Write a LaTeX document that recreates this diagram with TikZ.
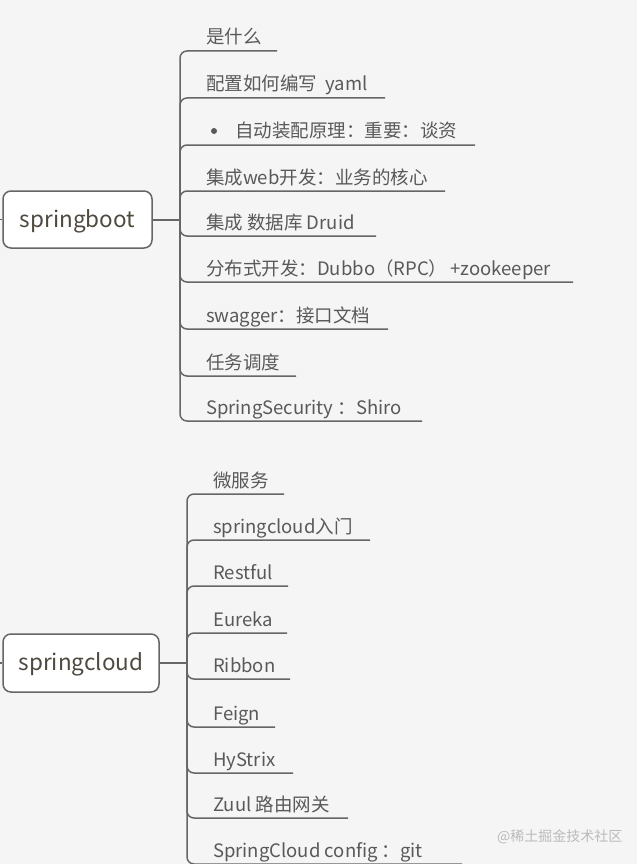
\documentclass[tikz,border=0pt]{standalone}
\usepackage{fontspec}
\setmainfont{Noto Sans CJK SC}
\usepackage{tikz}
\usetikzlibrary{positioning}
\usepackage{xcolor}
\definecolor{bggray}{HTML}{F5F5F5}
\definecolor{linegray}{HTML}{666666}
\definecolor{txtgray}{HTML}{595959}
\definecolor{roottxt}{HTML}{4F4A40}
\definecolor{markgray}{HTML}{BBBBBB}

\tikzset{
  rootbox/.style={draw=linegray,fill=white,line width=1.5pt,rounded corners=8pt,minimum width=149pt,minimum height=57pt,inner sep=0pt,text=roottxt,font=\fontsize{22.5}{24}\selectfont},
  item/.style={anchor=base west,inner sep=0pt,text=txtgray,font=\fontsize{18.5}{20}\selectfont},
  branch/.style={draw=linegray,line width=1.5pt,rounded corners=7pt},
  stem/.style={draw=linegray,line width=2.5pt}
}

\begin{document}
\begin{tikzpicture}[x=1pt,y=-1pt]
\fill [bggray] (0,0) rectangle (637,864);
\useasboundingbox (0,0) rectangle (637,864);

% springboot
\node[rootbox] (boot) at (77.5,219.5) {\raisebox{-7.5pt}[0pt][0pt]{springboot}};
\coordinate (bootin) at (0,219.5);
\coordinate (bootj) at (180,219.5);
\draw [stem,line width=1.5pt] (bootin)--(boot);
\draw [stem,line width=2pt] (boot)--(bootj);

\node[item] (b1) at (206,44) {是什么};
\node[item] (b2) at (206,91) {配置如何编写\ \ yaml};
\node[circle,fill=txtgray,inner sep=0pt,minimum size=6pt] (b3dot) at (214,131) {};
\node[item] (b3) at (235,138) {自动装配原理：重要：谈资};
\node[item] (b4) at (206,184) {集成web开发：业务的核心};
\node[item] (b5) at (206,229) {集成 数据库 Druid};
\node[item] (b6) at (206,275) {分布式开发：Dubbo（RPC）\,+zookeeper};
\node[item] (b7) at (206,322) {swagger：接口文档};
\node[item] (b8) at (206,369) {任务调度};
\node[item] (b9) at (206,414) {SpringSecurity ：Shiro};

\coordinate (b1e) at (277,51);
\coordinate (b2e) at (385,98);
\coordinate (b3e) at (475,145);
\coordinate (b4e) at (445,191);
\coordinate (b5e) at (376,236);
\coordinate (b6e) at (573,282);
\coordinate (b7e) at (388,329);
\coordinate (b8e) at (296,376);
\coordinate (b9e) at (422,421);

\draw [branch] (bootj) |- (b1e);
\draw [branch] (bootj) |- (b2e);
\draw [branch] (bootj) |- (b3e);
\draw [branch] (bootj) |- (b4e);
\draw [branch] (bootj) |- (b5e);
\draw [branch] (bootj) |- (b6e);
\draw [branch] (bootj) |- (b7e);
\draw [branch] (bootj) |- (b8e);
\draw [branch] (bootj) |- (b9e);

% springcloud
\node[rootbox,minimum width=156pt,minimum height=58pt] (cloud) at (81,663) {\raisebox{-7.5pt}[0pt][0pt]{springcloud}};
\coordinate (cloudin) at (0,663);
\coordinate (cloudj) at (187,663);
\draw [stem,line width=1.5pt] (cloudin)--(cloud);
\draw [stem] (cloud)--(cloudj);

\node[item] (c1) at (213,487) {微服务};
\node[item] (c2) at (213,533) {springcloud入门};
\node[item] (c3) at (213,579) {Restful};
\node[item] (c4) at (213,626) {Eureka};
\node[item] (c5) at (213,672) {Ribbon};
\node[item] (c6) at (213,720) {Feign};
\node[item] (c7) at (213,766) {HyStrix};
\node[item] (c8) at (213,811) {Zuul 路由网关};
\node[item] (c9) at (213,857) {SpringCloud config ：git};

\coordinate (c1e) at (284,494);
\coordinate (c2e) at (370,540);
\coordinate (c3e) at (288,586);
\coordinate (c4e) at (287,633);
\coordinate (c5e) at (290,679);
\coordinate (c6e) at (275,727);
\coordinate (c7e) at (293,773);
\coordinate (c8e) at (348,818);
\coordinate (c9e) at (462,864);

\draw [branch] (cloudj) |- (c1e);
\draw [branch] (cloudj) |- (c2e);
\draw [branch] (cloudj) |- (c3e);
\draw [branch] (cloudj) |- (c4e);
\draw [branch] (cloudj) |- (c5e);
\draw [branch] (cloudj) |- (c6e);
\draw [branch] (cloudj) |- (c7e);
\draw [branch] (cloudj) |- (c8e);
\draw [branch] (cloudj) |- (c9e);

\node[anchor=base west,inner sep=0pt,text=markgray,font=\fontsize{14}{16}\selectfont] (mark) at (497,841) {@稀土掘金技术社区};
\end{tikzpicture}
\end{document}
